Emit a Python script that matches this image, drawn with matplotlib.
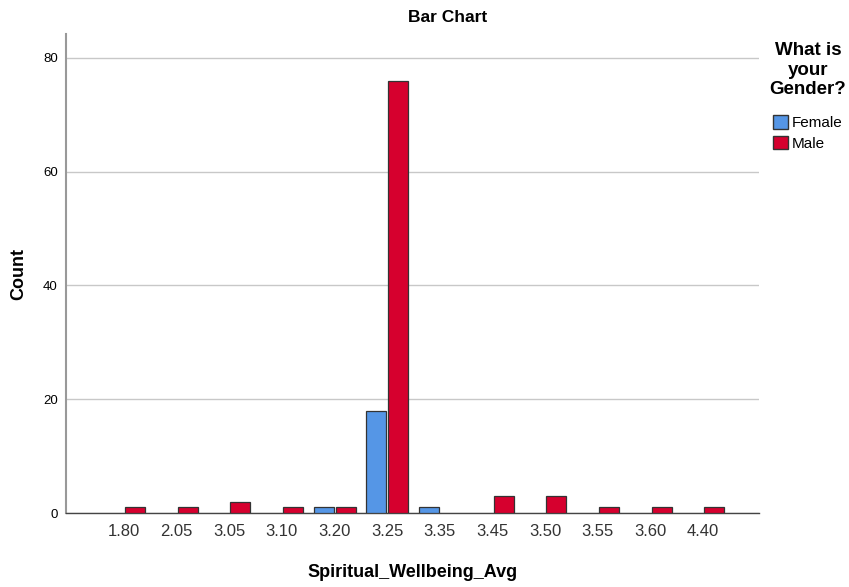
import numpy as np
import matplotlib.pyplot as plt
from matplotlib.patches import Patch

plt.rcParams['font.family'] = ['Liberation Sans', 'DejaVu Sans']

categories = ["1.80", "2.05", "3.05", "3.10", "3.20", "3.25", "3.35", "3.45", "3.50", "3.55", "3.60", "4.40"]
female = [0, 0, 0, 0, 1, 18, 1, 0, 0, 0, 0, 0]
male = [1, 1, 2, 1, 1, 76, 0, 3, 3, 1, 1, 1]

blue = "#5596E6"
red = "#D6002E"

fig = plt.figure(figsize=(8.49, 5.87), dpi=100)
ax = fig.add_axes([66 / 849, 1 - 513 / 587, (759 - 66) / 849, (513 - 34) / 587])

x = np.arange(len(categories))
w = 0.38
off = 0.21
f = np.array(female)
m = np.array(male)
# SPSS leaves out empty cells
ax.bar(x[f > 0] - off, f[f > 0], width=w, color=blue, edgecolor="#333333", linewidth=0.9, zorder=3)
ax.bar(x[m > 0] + off, m[m > 0], width=w, color=red, edgecolor="#333333", linewidth=0.9, zorder=3)

ax.set_xlim(-1.1, len(categories) + 0.06)
ax.set_ylim(0, 84.2)
ax.set_xticks(x)
ax.set_xticklabels(categories, fontsize=12, color="#333333")
ax.set_yticks([0, 20, 40, 60, 80])
ax.tick_params(axis="y", labelsize=9.5, length=0, pad=6)
ax.tick_params(axis="x", length=0, pad=8)
ax.yaxis.grid(True, color="#c8c8c8", linewidth=1, zorder=0)
for s in ["top", "right"]:
    ax.spines[s].set_visible(False)
ax.spines["left"].set_color("#999999")
ax.spines["left"].set_linewidth(1.5)
ax.spines["bottom"].set_color("#444444")
ax.spines["bottom"].set_linewidth(1)

ax.set_xlabel("Spiritual_Wellbeing_Avg", fontsize=13, fontweight="bold", labelpad=18)
ax.set_ylabel("Count", fontsize=13, fontweight="bold")
ax.yaxis.set_label_coords(-0.056, 0.5)
fig.text(448 / 849, 1 - 18 / 587, "Bar Chart", ha="center", va="center", fontsize=12.5, fontweight="bold")

fig.text(808 / 849, 1 - 42 / 587, "What is\nyour\nGender?", ha="center", va="top",
         fontsize=13.5, fontweight="bold", linespacing=1.2)
handles = [Patch(facecolor=blue, edgecolor="#333333", label="Female"),
           Patch(facecolor=red, edgecolor="#333333", label="Male")]
fig.legend(handles=handles, loc="upper left", bbox_to_anchor=(767 / 849, 1 - 109 / 587),
           frameon=False, fontsize=11, handlelength=1.0, handleheight=1.0,
           handletextpad=0.2, labelspacing=0.35, borderaxespad=0)

fig.savefig("out.png", dpi=100)
